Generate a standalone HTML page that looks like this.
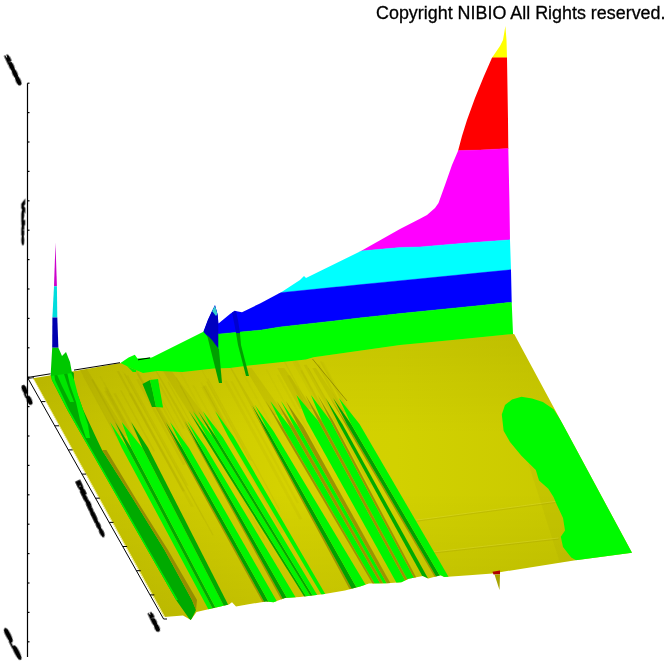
<!DOCTYPE html>
<html><head><meta charset="utf-8"><title>plot</title>
<style>html,body{margin:0;padding:0;background:#fff;}svg{display:block;}text{will-change:transform;}</style></head>
<body><svg width="672" height="672" viewBox="0 0 672 672">
<rect width="672" height="672" fill="#fff"/>
<defs><clipPath id="wc"><polygon points="118.0,366.0 120.5,363.0 128.6,357.5 134.8,354.8 137.5,358.4 151.8,357.5 203.4,331.7 207.9,319.8 212.0,311.0 215.0,305.0 217.5,314.0 218.5,323.5 230.0,314.0 234.6,310.8 238.0,311.5 242.0,312.3 260.0,303.4 282.0,291.7 300.0,280.0 304.0,276.0 306.0,278.0 361.0,251.0 400.0,229.0 420.0,218.8 427.0,215.0 435.0,208.0 438.5,203.0 445.0,185.0 452.0,165.0 458.0,151.0 462.0,136.0 467.0,120.0 475.0,98.0 484.0,76.0 492.0,57.7 500.0,46.0 503.0,40.0 505.4,26.0 506.5,40.0 507.0,57.7 508.0,120.0 508.3,148.5 509.4,200.0 510.0,240.0 511.0,270.0 511.7,302.0 513.0,333.5 513.0,380.0 118.0,380.0"/></clipPath></defs>
<g clip-path="url(#wc)">
<polygon fill="#ffff00" stroke="#ffff00" stroke-width="0.4" points="100.0,0.0 150.0,0.0 203.4,0.0 210.0,0.0 219.8,0.0 260.0,0.0 280.0,0.0 336.0,0.0 340.0,0.0 361.0,0.0 380.0,0.0 400.0,0.0 420.0,0.0 440.0,0.0 458.0,0.0 460.0,0.0 480.0,0.0 508.3,0.0 510.0,0.0 511.0,0.0 511.7,0.0 520.0,0.0 530.0,0.0 530.0,57.7 520.0,57.7 511.7,57.7 511.0,57.7 510.0,57.7 508.3,57.7 480.0,57.7 460.0,57.7 458.0,57.7 440.0,57.7 420.0,57.7 400.0,57.7 380.0,57.7 361.0,57.7 340.0,57.7 336.0,57.7 280.0,57.7 260.0,57.7 219.8,57.7 210.0,57.7 203.4,57.7 150.0,57.7 100.0,57.7"/>
<polygon fill="#ff0000" stroke="#ff0000" stroke-width="0.4" points="100.0,57.7 150.0,57.7 203.4,57.7 210.0,57.7 219.8,57.7 260.0,57.7 280.0,57.7 336.0,57.7 340.0,57.7 361.0,57.7 380.0,57.7 400.0,57.7 420.0,57.7 440.0,57.7 458.0,57.7 460.0,57.7 480.0,57.7 508.3,57.7 510.0,57.7 511.0,57.7 511.7,57.7 520.0,57.7 530.0,57.7 530.0,148.0 520.0,148.0 511.7,148.4 511.0,148.4 510.0,148.4 508.3,148.5 480.0,150.0 460.0,150.5 458.0,150.6 440.0,151.5 420.0,152.0 400.0,152.5 380.0,153.0 361.0,153.5 340.0,154.0 336.0,154.1 280.0,155.5 260.0,156.0 219.8,157.0 210.0,157.2 203.4,157.4 150.0,158.8 100.0,160.0"/>
<polygon fill="#ff00ff" stroke="#ff00ff" stroke-width="0.4" points="100.0,160.0 150.0,158.8 203.4,157.4 210.0,157.2 219.8,157.0 260.0,156.0 280.0,155.5 336.0,154.1 340.0,154.0 361.0,153.5 380.0,153.0 400.0,152.5 420.0,152.0 440.0,151.5 458.0,150.6 460.0,150.5 480.0,150.0 508.3,148.5 510.0,148.4 511.0,148.4 511.7,148.4 520.0,148.0 530.0,148.0 530.0,239.0 520.0,239.0 511.7,239.7 511.0,239.7 510.0,239.8 508.3,239.9 480.0,242.0 460.0,243.5 458.0,243.7 440.0,245.2 420.0,246.9 400.0,247.5 380.0,249.3 361.0,251.0 340.0,253.0 336.0,253.4 280.0,258.5 260.0,260.3 219.8,264.0 210.0,264.9 203.4,265.5 150.0,270.4 100.0,275.0"/>
<polygon fill="#00ffff" stroke="#00ffff" stroke-width="0.4" points="100.0,275.0 150.0,270.4 203.4,265.5 210.0,264.9 219.8,264.0 260.0,260.3 280.0,258.5 336.0,253.4 340.0,253.0 361.0,251.0 380.0,249.3 400.0,247.5 420.0,246.9 440.0,245.2 458.0,243.7 460.0,243.5 480.0,242.0 508.3,239.9 510.0,239.8 511.0,239.7 511.7,239.7 520.0,239.0 530.0,239.0 530.0,269.0 520.0,269.0 511.7,269.6 511.0,269.7 510.0,269.8 508.3,270.0 480.0,272.8 460.0,274.8 458.0,275.0 440.0,276.8 420.0,278.8 400.0,280.7 380.0,282.7 361.0,284.6 340.0,286.7 336.0,287.1 280.0,292.7 260.0,294.7 219.8,298.8 210.0,299.8 203.4,300.5 150.0,305.9 100.0,311.0"/>
<polygon fill="#0000ff" stroke="#0000ff" stroke-width="0.4" points="100.0,311.0 150.0,305.9 203.4,300.5 210.0,299.8 219.8,298.8 260.0,294.7 280.0,292.7 336.0,287.1 340.0,286.7 361.0,284.6 380.0,282.7 400.0,280.7 420.0,278.8 440.0,276.8 458.0,275.0 460.0,274.8 480.0,272.8 508.3,270.0 510.0,269.8 511.0,269.7 511.7,269.6 520.0,269.0 530.0,269.0 530.0,301.0 520.0,301.0 511.7,302.3 511.0,302.4 510.0,302.5 508.3,302.6 480.0,305.5 460.0,307.5 458.0,307.7 440.0,309.5 420.0,311.5 400.0,313.6 380.0,315.7 361.0,317.8 340.0,320.2 336.0,320.7 280.0,327.0 260.0,330.2 219.8,333.9 210.0,333.5 203.4,331.0 150.0,340.0 100.0,345.0"/>
<polygon fill="#00ff00" stroke="#00ff00" stroke-width="0.4" points="100.0,345.0 150.0,340.0 203.4,331.0 210.0,333.5 219.8,333.9 260.0,330.2 280.0,327.0 336.0,320.7 340.0,320.2 361.0,317.8 380.0,315.7 400.0,313.6 420.0,311.5 440.0,309.5 458.0,307.7 460.0,307.5 480.0,305.5 508.3,302.6 510.0,302.5 511.0,302.4 511.7,302.3 520.0,301.0 530.0,301.0 530.0,420.0 520.0,420.0 511.7,420.0 511.0,420.0 510.0,420.0 508.3,420.0 480.0,420.0 460.0,420.0 458.0,420.0 440.0,420.0 420.0,420.0 400.0,420.0 380.0,420.0 361.0,420.0 340.0,420.0 336.0,420.0 280.0,420.0 260.0,420.0 219.8,420.0 210.0,420.0 203.4,420.0 150.0,420.0 100.0,420.0"/>
<polygon fill="#0000c0" points="207.9,319.8 212,311 215,305 218.3,316 218.3,349.5 219,349.5 203.4,331.7"/>
<polygon fill="#33cccc" points="212,311 215,305 217.5,314 216,316"/>
<polygon fill="#0000d0" points="232,312 236,311 238,320 240,333 236,333"/>
</g>
<defs><clipPath id="fc"><polygon points="33.0,378.3 164.2,617.0 183.0,615.5 190.8,620.0 196.5,612.0 216.0,607.5 229.0,604.4 232.0,602.3 236.0,606.5 250.0,604.0 266.0,601.5 273.5,602.3 285.0,598.0 300.0,597.0 324.6,594.0 345.0,590.5 360.0,586.5 369.0,583.6 387.0,583.2 401.4,582.3 408.6,578.8 422.9,576.0 428.2,578.5 440.7,575.2 444.3,577.0 469.3,575.2 492.5,573.4 573.8,560.4 632.0,552.8 514.3,334.3 513.5,334.0 450.0,340.2 400.0,345.1 313.5,357.3 305.9,359.5 249.0,365.4 230.0,367.9 213.8,368.5 182.5,372.0 157.5,371.0 143.0,373.0 131.0,368.0 120.5,363.0 49.8,375.6"/></clipPath>
<linearGradient id="fg" gradientUnits="userSpaceOnUse" x1="40" y1="0" x2="632" y2="0">
<stop offset="0" stop-color="#c0bd00"/>
<stop offset="0.18" stop-color="#cac700"/>
<stop offset="0.42" stop-color="#d5d200"/>
<stop offset="0.6" stop-color="#d2d100"/>
<stop offset="1" stop-color="#c6c600"/>
</linearGradient>
<linearGradient id="fv" gradientUnits="userSpaceOnUse" x1="0" y1="335" x2="0" y2="620">
<stop offset="0" stop-color="#000" stop-opacity="0.06"/>
<stop offset="0.35" stop-color="#000" stop-opacity="0.0"/>
<stop offset="0.55" stop-color="#000" stop-opacity="0.0"/>
<stop offset="1" stop-color="#000" stop-opacity="0.08"/>
</linearGradient></defs>
<polygon fill="url(#fg)" points="33.0,378.3 164.2,617.0 183.0,615.5 190.8,620.0 196.5,612.0 216.0,607.5 229.0,604.4 232.0,602.3 236.0,606.5 250.0,604.0 266.0,601.5 273.5,602.3 285.0,598.0 300.0,597.0 324.6,594.0 345.0,590.5 360.0,586.5 369.0,583.6 387.0,583.2 401.4,582.3 408.6,578.8 422.9,576.0 428.2,578.5 440.7,575.2 444.3,577.0 469.3,575.2 492.5,573.4 573.8,560.4 632.0,552.8 514.3,334.3 513.5,334.0 450.0,340.2 400.0,345.1 313.5,357.3 305.9,359.5 249.0,365.4 230.0,367.9 213.8,368.5 182.5,372.0 157.5,371.0 143.0,373.0 131.0,368.0 120.5,363.0 49.8,375.6"/>
<g clip-path="url(#fc)">
<polygon fill="url(#fv)" points="33.0,378.3 164.2,617.0 183.0,615.5 190.8,620.0 196.5,612.0 216.0,607.5 229.0,604.4 232.0,602.3 236.0,606.5 250.0,604.0 266.0,601.5 273.5,602.3 285.0,598.0 300.0,597.0 324.6,594.0 345.0,590.5 360.0,586.5 369.0,583.6 387.0,583.2 401.4,582.3 408.6,578.8 422.9,576.0 428.2,578.5 440.7,575.2 444.3,577.0 469.3,575.2 492.5,573.4 573.8,560.4 632.0,552.8 514.3,334.3 513.5,334.0 450.0,340.2 400.0,345.1 313.5,357.3 305.9,359.5 249.0,365.4 230.0,367.9 213.8,368.5 182.5,372.0 157.5,371.0 143.0,373.0 131.0,368.0 120.5,363.0 49.8,375.6"/>
<polyline fill="none" stroke="#f4f0a0" stroke-width="1" points="33.5,379 165,617.5"/>
<polygon fill="#a09a00" fill-opacity="0.12" points="528,462 535.8,470 539,480.4 548.3,488.75 553.5,497 556.7,504.4 563,518 565,530.4 560.8,536.7 563,547 571.25,557.5 577.5,561 560,563"/>
<polyline fill="none" stroke="#e0dc40" stroke-opacity="0.35" stroke-width="1" points="415.7,520.2 555.6,501.4"/>
<polyline fill="none" stroke="#9a9400" stroke-opacity="0.25" stroke-width="1" points="415.7,521.3 555.6,502.5"/>
<polyline fill="none" stroke="#e0dc40" stroke-opacity="0.35" stroke-width="1" points="424.6,552.9 558.6,538"/>
<polyline fill="none" stroke="#9a9400" stroke-opacity="0.25" stroke-width="1" points="424.6,554 558.6,539.1"/>
<polygon fill="#00fa00" points="501.8,414.6 505.0,405.0 512.0,399.5 521.4,396.8 532.0,398.5 542.9,402.0 553.6,409.3 600.0,480.0 650.0,560.0 590.0,568.0 577.5,561.0 571.2,557.5 563.0,547.0 560.8,536.7 565.0,530.4 563.0,518.0 556.7,504.4 553.5,497.0 548.3,488.8 539.0,480.4 535.8,470.0 521.4,455.7 510.0,442.0 503.6,430.7"/>
<polygon fill="#8a8000" fill-opacity="0.09" points="167.4,382.0 168.7,381.8 196.9,433.4 195.6,433.6"/>
<polygon fill="#8a8000" fill-opacity="0.08" points="175.6,377.7 176.7,377.6 204.5,428.4 203.4,428.5"/>
<polygon fill="#8a8000" fill-opacity="0.05" points="103.4,382.4 104.6,382.3 184.9,528.8 183.8,528.9"/>
<polygon fill="#8a8000" fill-opacity="0.08" points="147.0,391.2 149.5,391.0 206.4,495.0 204.0,495.2"/>
<polygon fill="#8a8000" fill-opacity="0.05" points="326.6,371.9 327.7,371.8 365.8,441.9 364.7,442.0"/>
<polygon fill="#8a8000" fill-opacity="0.10" points="120.0,390.5 121.7,390.4 155.1,451.3 153.4,451.5"/>
<polygon fill="#8a8000" fill-opacity="0.05" points="241.8,372.5 243.6,372.3 272.1,424.4 270.2,424.6"/>
<polygon fill="#8a8000" fill-opacity="0.10" points="136.2,379.4 138.8,379.2 185.6,464.6 183.0,464.9"/>
<polygon fill="#8a8000" fill-opacity="0.06" points="200.3,382.4 201.9,382.2 267.9,502.9 266.2,503.1"/>
<polygon fill="#8a8000" fill-opacity="0.07" points="230.4,381.5 232.6,381.3 299.0,502.9 296.8,503.2"/>
<polygon fill="#8a8000" fill-opacity="0.06" points="322.2,361.8 323.4,361.7 395.7,494.7 394.5,494.9"/>
<polygon fill="#8a8000" fill-opacity="0.10" points="207.3,378.6 208.3,378.5 279.9,509.5 278.8,509.7"/>
<polygon fill="#8a8000" fill-opacity="0.10" points="300.4,370.5 302.1,370.3 361.3,479.1 359.6,479.3"/>
<polygon fill="#8a8000" fill-opacity="0.11" points="202.9,385.8 205.9,385.5 255.6,476.6 252.7,476.9"/>
<polygon fill="#8a8000" fill-opacity="0.12" points="104.1,387.8 106.8,387.6 195.0,548.5 192.4,548.8"/>
<polygon fill="#8a8000" fill-opacity="0.09" points="158.2,383.3 160.1,383.1 184.9,428.5 183.0,428.7"/>
<polygon fill="#8a8000" fill-opacity="0.05" points="122.3,371.6 123.6,371.5 204.4,519.1 203.2,519.2"/>
<polygon fill="#8a8000" fill-opacity="0.08" points="151.9,388.9 153.8,388.7 179.8,436.2 177.9,436.4"/>
<polygon fill="#8a8000" fill-opacity="0.07" points="223.7,380.7 226.8,380.5 302.4,519.1 299.4,519.4"/>
<polygon fill="#8a8000" fill-opacity="0.06" points="192.3,385.3 194.1,385.1 275.5,534.0 273.7,534.2"/>
<polygon fill="#8a8000" fill-opacity="0.10" points="126.5,375.5 128.1,375.4 188.4,485.5 186.9,485.7"/>
<polygon fill="#8a8000" fill-opacity="0.10" points="149.7,377.9 150.7,377.8 201.0,469.7 200.0,469.8"/>
<polygon fill="#8a8000" fill-opacity="0.11" points="316.9,364.6 319.5,364.4 382.0,479.5 379.5,479.8"/>
<polygon fill="#8a8000" fill-opacity="0.12" points="104.2,391.1 107.3,390.8 186.2,534.6 183.1,535.0"/>
<polygon fill="#8a8000" fill-opacity="0.05" points="176.9,367.7 178.8,367.5 249.6,497.0 247.7,497.3"/>
<polygon fill="#8a8000" fill-opacity="0.05" points="99.4,376.2 100.9,376.1 153.1,471.4 151.7,471.5"/>
<polygon fill="#8a8000" fill-opacity="0.04" points="82.5,376.3 83.8,376.2 138.6,475.9 137.3,476.1"/>
<polygon fill="#8a8000" fill-opacity="0.07" points="293.4,358.0 295.8,357.8 340.6,440.1 338.2,440.4"/>
<polygon fill="#8a8000" fill-opacity="0.09" points="179.6,385.7 180.8,385.5 265.1,539.7 263.9,539.8"/>
<polygon fill="#8a8000" fill-opacity="0.07" points="198.9,365.6 200.0,365.5 252.1,460.8 250.9,460.9"/>
<polygon fill="#8a8000" fill-opacity="0.09" points="280.9,356.2 282.2,356.1 372.1,521.1 370.7,521.3"/>
<polygon fill="#8a8000" fill-opacity="0.14" points="116.8,371.3 119.0,371.1 184.9,491.3 182.7,491.6"/>
<polygon fill="#8a8000" fill-opacity="0.06" points="292.1,360.9 294.8,360.6 345.2,453.4 342.6,453.7"/>
<polygon fill="#8a8000" fill-opacity="0.06" points="276.6,374.7 278.8,374.5 320.8,451.6 318.6,451.9"/>
<polygon fill="#8a8000" fill-opacity="0.12" points="287.0,375.5 290.3,375.2 360.9,504.9 357.6,505.3"/>
<polygon fill="#8a8000" fill-opacity="0.04" points="265.6,369.5 267.1,369.3 314.1,455.5 312.6,455.7"/>
<polygon fill="#8a8000" fill-opacity="0.14" points="91.2,379.4 92.8,379.3 166.8,514.0 165.2,514.2"/>
<polygon fill="#8a8000" fill-opacity="0.08" points="201.3,387.0 204.5,386.7 284.2,532.6 281.0,533.0"/>
<polygon fill="#8a8000" fill-opacity="0.10" points="136.7,373.7 138.2,373.5 180.9,451.5 179.4,451.6"/>
<polygon fill="#8a8000" fill-opacity="0.12" points="303.7,365.0 306.7,364.7 372.1,484.9 369.1,485.3"/>
<polygon fill="#8a8000" fill-opacity="0.12" points="113.3,393.5 115.8,393.2 186.9,522.9 184.4,523.2"/>
<polygon fill="#8a8000" fill-opacity="0.12" points="206.2,381.7 207.6,381.5 250.3,459.7 248.9,459.9"/>
<polygon fill="#8a8000" fill-opacity="0.11" points="319.9,361.6 321.8,361.5 406.0,516.4 404.1,516.6"/>
<polygon fill="#8a8000" fill-opacity="0.12" points="124.0,373.7 125.3,373.6 213.7,535.1 212.4,535.2"/>
<polygon fill="#8a8000" fill-opacity="0.08" points="128.9,393.7 131.9,393.5 193.8,506.4 190.9,506.8"/>
<polygon fill="#8a8200" fill-opacity="0.14" points="79.0,368.0 86.1,368.0 128.8,436.0 115.5,436.0"/>
<polygon fill="#8a8200" fill-opacity="0.14" points="133.6,368.0 135.9,368.0 176.5,436.0 171.0,436.0"/>
<polygon fill="#8a8200" fill-opacity="0.14" points="153.9,368.0 154.9,368.0 194.5,435.0 190.7,435.0"/>
<polygon fill="#8a8200" fill-opacity="0.14" points="161.1,368.0 169.2,368.0 211.8,425.0 196.8,425.0"/>
<polygon fill="#8a8200" fill-opacity="0.14" points="230.2,368.0 231.6,368.0 262.0,419.0 257.8,419.0"/>
<polygon fill="#8a8200" fill-opacity="0.14" points="245.1,368.0 251.5,368.0 284.9,415.0 272.9,415.0"/>
<polygon fill="#8a8200" fill-opacity="0.14" points="277.2,368.0 284.2,368.0 313.4,409.0 300.0,409.0"/>
<polygon fill="#8a8200" fill-opacity="0.14" points="307.9,368.0 308.7,368.0 333.9,412.0 332.1,412.0"/>
<polygon fill="#8a8200" fill-opacity="0.14" points="312.3,368.0 315.9,368.0 345.3,412.0 338.1,412.0"/>
<polygon fill="#00f500" points="121.9,448.0 110.0,422.0 127.5,448.0 221.4,625.0 216.8,625.0"/>
<polygon fill="#00aa00" points="127.5,448.0 115.1,422.0 131.4,448.0 224.6,625.0 221.4,625.0"/>
<polygon fill="#00f500" points="131.4,448.0 121.7,422.0 142.5,448.0 233.7,625.0 224.6,625.0"/>
<polygon fill="#00aa00" points="142.5,448.0 131.1,422.0 148.2,448.0 238.5,625.0 233.7,625.0"/>
<polygon fill="#9a9400" points="177.6,448.0 163.8,422.0 179.0,448.0 277.0,625.0 275.2,625.0"/>
<polygon fill="#00a000" points="179.0,448.0 165.7,422.0 182.4,448.0 281.6,625.0 277.0,625.0"/>
<polygon fill="#00f500" points="182.4,448.0 170.0,422.0 188.9,448.0 290.5,625.0 281.6,625.0"/>
<polygon fill="#9a9400" points="197.3,447.0 183.3,421.0 198.3,447.0 297.3,625.0 295.3,625.0"/>
<polygon fill="#00a000" points="198.3,447.0 184.6,421.0 200.7,447.0 302.4,625.0 297.3,625.0"/>
<polygon fill="#00f500" points="200.7,447.0 187.3,421.0 205.4,447.0 312.2,625.0 302.4,625.0"/>
<polygon fill="#00aa00" points="204.3,437.0 189.0,411.0 207.0,437.0 323.9,625.0 322.0,625.0"/>
<polygon fill="#00f500" points="207.0,437.0 192.9,411.0 212.9,437.0 328.2,625.0 323.9,625.0"/>
<polygon fill="#00aa00" points="212.9,437.0 198.1,411.0 216.1,437.0 330.5,625.0 328.2,625.0"/>
<polygon fill="#00f500" points="216.1,437.0 202.7,411.0 222.6,437.0 335.2,625.0 330.5,625.0"/>
<polygon fill="#00f500" points="228.5,437.0 215.1,411.0 233.8,437.0 343.3,625.0 339.4,625.0"/>
<polygon fill="#9a9400" points="264.2,431.0 250.5,405.0 265.3,431.0 371.5,625.0 369.0,625.0"/>
<polygon fill="#00a000" points="265.3,431.0 251.9,405.0 268.1,431.0 377.7,625.0 371.5,625.0"/>
<polygon fill="#00f500" points="268.1,431.0 254.9,405.0 273.4,431.0 389.8,625.0 377.7,625.0"/>
<polygon fill="#9a9400" points="280.0,427.0 265.6,401.0 282.8,427.0 399.0,625.0 397.0,625.0"/>
<polygon fill="#00f500" points="282.8,427.0 270.2,401.0 290.1,427.0 404.2,625.0 399.0,625.0"/>
<polygon fill="#9a9400" points="290.1,427.0 276.6,401.0 294.2,427.0 407.0,625.0 404.2,625.0"/>
<polygon fill="#00f500" points="294.2,427.0 281.0,401.0 298.7,427.0 410.2,625.0 407.0,625.0"/>
<polygon fill="#9a9400" points="298.7,427.0 285.8,401.0 303.6,427.0 413.7,625.0 410.2,625.0"/>
<polygon fill="#00f500" points="306.7,421.0 296.4,395.0 318.3,421.0 429.3,625.0 419.9,625.0"/>
<polygon fill="#9a9400" points="318.3,421.0 305.4,395.0 321.8,421.0 432.1,625.0 429.3,625.0"/>
<polygon fill="#00f500" points="321.8,421.0 310.9,395.0 330.6,421.0 439.2,625.0 432.1,625.0"/>
<polygon fill="#9a9400" points="330.6,421.0 317.7,395.0 333.2,421.0 441.4,625.0 439.2,625.0"/>
<polygon fill="#00aa00" points="338.7,424.0 325.6,398.0 342.3,424.0 453.9,625.0 449.2,625.0"/>
<polygon fill="#9a9400" points="345.1,424.0 330.5,398.0 346.8,424.0 464.5,625.0 462.9,625.0"/>
<polygon fill="#00a000" points="346.8,424.0 333.1,398.0 351.1,424.0 468.7,625.0 464.5,625.0"/>
<polygon fill="#00f500" points="351.1,424.0 338.9,398.0 359.5,424.0 476.6,625.0 468.7,625.0"/>
<polyline fill="none" stroke="#857d00" stroke-opacity="0.7" stroke-width="1" points="312.5,359 347,401"/>
<polygon fill="#00aa00" points="50.6,346.0 50.6,373.0 51.9,380.0 67.1,409.6 84.2,439.4 90.3,450.0 118.9,500.0 147.5,550.0 176.1,600.0 190.8,621.0 190.8,621.0 196.0,610.0 192.0,600.0 164.6,550.0 133.8,500.0 102.0,450.0 97.0,439.4 83.0,409.6 74.2,385.0 73.8,373.0 69.0,368.2 66.0,356.6 59.3,350.8"/>
<polygon fill="#948e00" points="102,450 106.4,450 136.6,500 168,550 197,600 196,610 192,600 164.6,550 133.75,500"/>
<polygon fill="#00f000" points="50.6,373 51.9,380 67.1,409.6 84.2,439.4 90.3,450 118.9,500 147.5,550 176.1,600 178,600 149,550 120.5,500 91.8,450 85.8,439.4 69,409.6 55,380 53,365"/>
<polygon fill="#00e600" points="52,352 56,350 60,362 66,380 70,392 74,402 70,402 62,386 55,370"/>
<polygon fill="#00f000" points="66,358 69,368 74.2,380 78,395 83,409.6 88,425 90,438 86,438 80,420 76,402 70,385 67,372"/>
<polygon fill="#00aa00" points="142.5,384 150,380 153,392 156,407 152,407"/>
<polygon fill="#00ee00" points="150,380 158,379 163,407.5 156,407"/>
<polygon fill="#00ee00" points="121,361.4 128.6,357.5 134.8,354.8 137.5,358.4 136,372 132.8,372 127,366"/>
</g>
<polygon fill="#00a000" points="207,335 212,340 219,349.5 222,383 219,383"/>
<polygon fill="#00a000" points="236,333 240,333 241,345 249,376 246,376 238,345"/>
<polygon fill="#b00000" points="492.5,571.8 500,570.5 500,574.3 493.5,574.6"/>
<polygon fill="#a8a400" points="494.5,574.5 500,574.3 499.5,590"/>
<polygon fill="#cc00cc" points="55.5,242.8 56.9,286.3 54,286.3"/>
<polygon fill="#00dddd" points="54,286.3 56.9,286.3 57.3,317.6 52.4,317.6"/>
<polygon fill="#0000b0" points="52.4,317.6 57.3,317.6 58.4,347.7 52.2,347.7"/>
<polygon fill="#00c800" points="52.2,347.7 58.4,347.7 62,356 66,352 70,362 72,373 50.6,376"/>
<line x1="27.5" y1="83.2" x2="27.5" y2="657" stroke="#000" stroke-width="1.2"/>
<line x1="27.5" y1="83.2" x2="29.5" y2="83.2" stroke="#000" stroke-width="1.2"/>
<line x1="27.5" y1="112.6" x2="29.5" y2="112.6" stroke="#000" stroke-width="1.2"/>
<line x1="27.5" y1="142.0" x2="29.5" y2="142.0" stroke="#000" stroke-width="1.2"/>
<line x1="27.5" y1="171.4" x2="29.5" y2="171.4" stroke="#000" stroke-width="1.2"/>
<line x1="27.5" y1="200.8" x2="29.5" y2="200.8" stroke="#000" stroke-width="1.2"/>
<line x1="27.5" y1="230.2" x2="29.5" y2="230.2" stroke="#000" stroke-width="1.2"/>
<line x1="27.5" y1="259.6" x2="29.5" y2="259.6" stroke="#000" stroke-width="1.2"/>
<line x1="27.5" y1="289.0" x2="29.5" y2="289.0" stroke="#000" stroke-width="1.2"/>
<line x1="27.5" y1="318.4" x2="29.5" y2="318.4" stroke="#000" stroke-width="1.2"/>
<line x1="27.5" y1="347.8" x2="29.5" y2="347.8" stroke="#000" stroke-width="1.2"/>
<line x1="27.5" y1="377.2" x2="29.5" y2="377.2" stroke="#000" stroke-width="1.2"/>
<line x1="27.5" y1="406.6" x2="29.5" y2="406.6" stroke="#000" stroke-width="1.2"/>
<line x1="27.5" y1="436.0" x2="29.5" y2="436.0" stroke="#000" stroke-width="1.2"/>
<line x1="27.5" y1="465.4" x2="29.5" y2="465.4" stroke="#000" stroke-width="1.2"/>
<line x1="27.5" y1="494.8" x2="29.5" y2="494.8" stroke="#000" stroke-width="1.2"/>
<line x1="27.5" y1="524.2" x2="29.5" y2="524.2" stroke="#000" stroke-width="1.2"/>
<line x1="27.5" y1="553.6" x2="29.5" y2="553.6" stroke="#000" stroke-width="1.2"/>
<line x1="27.5" y1="583.0" x2="29.5" y2="583.0" stroke="#000" stroke-width="1.2"/>
<line x1="27.5" y1="612.4" x2="29.5" y2="612.4" stroke="#000" stroke-width="1.2"/>
<line x1="27.5" y1="641.8" x2="29.5" y2="641.8" stroke="#000" stroke-width="1.2"/>
<polyline fill="none" stroke="#000" stroke-width="1" points="50.5,373.8 27.5,377.5 163.6,619 167,619"/>
<polyline fill="none" stroke="#000" stroke-width="1" points="74,370.1 120,362.7"/>
<polyline fill="none" stroke="#000" stroke-width="1" points="138,359.8 150,357.9"/>
<polyline fill="none" stroke="#000" stroke-width="0.8" points="27.5,378.6 34,377.6"/>
<line x1="41.1" y1="401.6" x2="45.4" y2="401.6" stroke="#000" stroke-width="1"/>
<line x1="54.7" y1="425.8" x2="59.0" y2="425.8" stroke="#000" stroke-width="1"/>
<line x1="68.3" y1="449.9" x2="72.6" y2="449.9" stroke="#000" stroke-width="1"/>
<line x1="81.9" y1="474.1" x2="86.2" y2="474.1" stroke="#000" stroke-width="1"/>
<line x1="95.5" y1="498.2" x2="99.8" y2="498.2" stroke="#000" stroke-width="1"/>
<line x1="109.2" y1="522.4" x2="113.5" y2="522.4" stroke="#000" stroke-width="1"/>
<line x1="122.8" y1="546.5" x2="127.1" y2="546.5" stroke="#000" stroke-width="1"/>
<line x1="136.4" y1="570.7" x2="140.7" y2="570.7" stroke="#000" stroke-width="1"/>
<line x1="150.0" y1="594.9" x2="154.3" y2="594.9" stroke="#000" stroke-width="1"/>
<text x="0" y="3.6" font-family="Liberation Sans, sans-serif" font-weight="bold" font-size="10" textLength="32.0" lengthAdjust="spacingAndGlyphs" transform="translate(6.5,55.5) rotate(65.0) scale(1,0.50)" fill="#000" stroke="#000" stroke-width="2.20">1000</text>
<text x="0" y="3.6" font-family="Liberation Sans, sans-serif" font-weight="bold" font-size="10" textLength="44.0" lengthAdjust="spacingAndGlyphs" transform="translate(23.4,200.5) rotate(90.0) scale(1,0.42)" fill="#000" stroke="#000" stroke-width="1.80">Value</text>
<text x="0" y="3.6" font-family="Liberation Sans, sans-serif" font-weight="bold" font-size="10" textLength="32.4" lengthAdjust="spacingAndGlyphs" transform="translate(5.5,629.5) rotate(63.4) scale(1,0.50)" fill="#000" stroke="#000" stroke-width="2.20">0.0</text>
<text x="0" y="3.6" font-family="Liberation Sans, sans-serif" font-weight="bold" font-size="10" textLength="19.7" lengthAdjust="spacingAndGlyphs" transform="translate(23.0,386.0) rotate(66.0) scale(1,0.50)" fill="#000" stroke="#000" stroke-width="2.20">0.0</text>
<text x="0" y="3.6" font-family="Liberation Sans, sans-serif" font-weight="bold" font-size="10" textLength="60.4" lengthAdjust="spacingAndGlyphs" transform="translate(77.5,481.5) rotate(64.5) scale(1,0.55)" fill="#000" stroke="#000" stroke-width="2.40">Distance</text>
<text x="0" y="3.6" font-family="Liberation Sans, sans-serif" font-weight="bold" font-size="10" textLength="19.9" lengthAdjust="spacingAndGlyphs" transform="translate(150.0,613.0) rotate(64.7) scale(1,0.50)" fill="#000" stroke="#000" stroke-width="2.20">100</text>
<text x="376" y="19" font-family="Liberation Sans, sans-serif" font-size="18" textLength="289.5" lengthAdjust="spacingAndGlyphs" fill="#000" stroke="#000" stroke-width="0.3">Copyright NIBIO All Rights reserved.</text>
</svg></body></html>
